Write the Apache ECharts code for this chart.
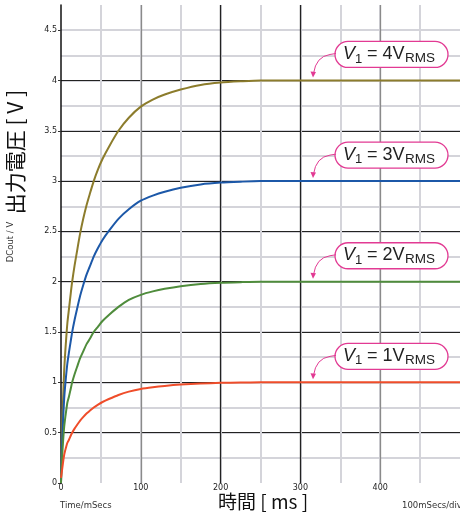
<!DOCTYPE html>
<html>
<head>
<meta charset="utf-8">
<script src="https://cdn.jsdelivr.net/npm/echarts@6/dist/echarts.min.js"></script>
<style>
html, body { margin: 0; padding: 0; background: #fff; }
#main { width: 460px; height: 518px; }
</style>
</head>
<body>
<div id="main"></div>
<script>
// readings (time in ms, output in V)
var timeMs = [0, 0.5, 1, 2, 3, 4, 5, 6, 8, 10, 12, 14, 17, 20, 24, 28, 32, 36, 41, 46, 52, 60, 72, 85, 100, 115, 130, 150, 175, 200, 225, 250, 300, 500];
var out4V  = [0, 0.24, 0.40, 0.68, 0.92, 1.12, 1.26, 1.38, 1.59, 1.73, 1.87, 2.0, 2.16, 2.3, 2.48, 2.63, 2.76, 2.87, 3.0, 3.11, 3.22, 3.34, 3.5, 3.63, 3.74, 3.81, 3.86, 3.91, 3.956, 3.98, 3.992, 4, 4, 4];
var out3V  = [0, 0.18, 0.30, 0.51, 0.69, 0.84, 0.945, 1.035, 1.19, 1.3, 1.4, 1.5, 1.62, 1.725, 1.86, 1.97, 2.07, 2.15, 2.25, 2.33, 2.415, 2.505, 2.625, 2.72, 2.805, 2.856, 2.895, 2.934, 2.967, 2.985, 2.994, 3, 3, 3];
var out2V  = [0, 0.12, 0.20, 0.34, 0.46, 0.56, 0.63, 0.69, 0.8, 0.86, 0.93, 1.0, 1.08, 1.15, 1.24, 1.31, 1.38, 1.43, 1.5, 1.55, 1.61, 1.67, 1.75, 1.82, 1.87, 1.904, 1.93, 1.956, 1.978, 1.99, 1.996, 2, 2, 2];
var out1V  = [0.05, 0.08, 0.11, 0.17, 0.23, 0.28, 0.315, 0.345, 0.4, 0.43, 0.467, 0.5, 0.54, 0.575, 0.62, 0.657, 0.69, 0.717, 0.75, 0.777, 0.805, 0.835, 0.875, 0.908, 0.935, 0.952, 0.965, 0.978, 0.989, 0.995, 0.998, 1, 1, 1];

var seriesNames = ['4', '3', '2', '1'];
var seriesColors = ['#8c7c2c', '#1c58a8', '#4f8c3c', '#ef4d2a'];
var seriesLevels = [4, 3, 2, 1];

var xLabels = [0, 100, 200, 300, 400];
var yLabels = [0, 0.5, 1, 1.5, 2, 2.5, 3, 3.5, 4, 4.5];

var pink = '#e23a93';
var labelT = 342.5;   // where the callout boxes start (ms)

var myChart = echarts.init(document.getElementById('main'));

function makeSeries(values, i) {
	var data = [];
	for (var k = 0; k < timeMs.length; k++) {
		data.push([timeMs[k], values[k]]);
	}
	return {
		name: seriesNames[i],
		type: 'line',
		xAxisIndex: 0,
		yAxisIndex: 0,
		data: data,
		symbol: 'none',
		smooth: 0.25,
		lineStyle: { color: seriesColors[i], width: 2 },
		z: 5
	};
}

var option = {
	animation: false,
	backgroundColor: '#fff',
	grid: { left: 61, right: -1, top: 5, bottom: 35 },
	xAxis: [
		{
			type: 'value', min: 0, max: 500, interval: 50, position: 'bottom',
			axisLine: { show: false }, axisTick: { show: false }, axisLabel: { show: false },
			splitLine: { show: true, showMinLine: false, showMaxLine: false, lineStyle: { color: '#d4d4da', width: 2 } }
		},
		{
			type: 'value', min: 0, max: 500, interval: 100, position: 'bottom',
			axisLine: { show: false }, axisTick: { show: false },
			axisLabel: {
				customValues: xLabels, margin: 1,
				fontFamily: 'DejaVu Sans', fontSize: 8, color: '#222'
			},
			splitLine: { show: true, showMinLine: false, showMaxLine: false,
				lineStyle: { color: ['#8a8a8a', '#222', '#222', '#8a8a8a'], width: 1.3 } }
		}
	],
	yAxis: [
		{
			type: 'value', min: 0, max: 4.75, interval: 0.25,
			axisLine: { show: true, lineStyle: { color: '#111', width: 1.5 } },
			axisTick: { show: false }, axisLabel: { show: false },
			splitLine: { show: true, showMinLine: false, showMaxLine: false, lineStyle: { color: '#d4d4da', width: 2 } }
		},
		{
			type: 'value', min: 0, max: 4.75, interval: 0.5, position: 'left',
			axisLine: { show: false },
			axisTick: { show: true, customValues: yLabels, length: 3, lineStyle: { color: '#333' } },
			axisLabel: {
				customValues: yLabels, margin: 4,
				fontFamily: 'DejaVu Sans', fontSize: 8, color: '#222'
			},
			splitLine: { show: true, showMinLine: false, showMaxLine: false, lineStyle: { color: '#222', width: 1 } }
		}
	],
	series: [
		makeSeries(out4V, 0),
		makeSeries(out3V, 1),
		makeSeries(out2V, 2),
		makeSeries(out1V, 3)
	]
};
myChart.setOption(option);

// texts round the plot and the callouts
var elements = [
	{ type: 'text', x: 15, y: 152, rotation: Math.PI / 2,
		style: { text: '出力電圧 [ V ]', font: '21px "Noto Sans CJK JP"', fill: '#111', align: 'center', verticalAlign: 'middle' } },
	{ type: 'text', x: 11, y: 242, rotation: Math.PI / 2,
		style: { text: 'DCout / V', font: '8.5px "DejaVu Sans"', fill: '#333', align: 'center', verticalAlign: 'middle' } },
	{ type: 'text', x: 263, y: 502,
		style: { text: '時間 [ ms ]', font: '19px "Noto Sans CJK JP"', fill: '#111', align: 'center', verticalAlign: 'middle' } },
	{ type: 'text', x: 60, y: 506,
		style: { text: 'Time/mSecs', font: '8.5px "DejaVu Sans"', fill: '#333', align: 'left', verticalAlign: 'middle' } },
	{ type: 'text', x: 402, y: 506,
		style: { text: '100mSecs/div', font: '8.5px "DejaVu Sans"', fill: '#333', align: 'left', verticalAlign: 'middle' } }
];

seriesLevels.forEach(function (lv, i) {
	var p = myChart.convertToPixel({ xAxisIndex: 0, yAxisIndex: 0 }, [labelT, lv]);
	var bx = Math.round(p[0]) + 1, ly = p[1], cy = ly - 26;
	elements.push({ type: 'rect', z: 10,
		shape: { x: bx, y: cy - 13, width: 113, height: 26, r: 13 },
		style: { fill: '#fff', stroke: pink, lineWidth: 1.3 } });
	elements.push({ type: 'text', z: 11, x: bx + 8, y: cy - 0.5,
		style: { text: 'V', font: 'italic 18px "Liberation Sans"', fill: '#222', verticalAlign: 'middle' } });
	elements.push({ type: 'text', z: 11, x: bx + 20, y: cy + 4.5,
		style: { text: '1', font: '13px "Liberation Sans"', fill: '#222', verticalAlign: 'middle' } });
	elements.push({ type: 'text', z: 11, x: bx + 27, y: cy - 0.5,
		style: { text: ' = ' + seriesNames[i] + 'V', font: '18px "Liberation Sans"', fill: '#222', verticalAlign: 'middle' } });
	elements.push({ type: 'text', z: 11, x: bx + 70, y: cy + 4,
		style: { text: 'RMS', font: '13.5px "Liberation Sans"', fill: '#222', verticalAlign: 'middle' } });
	// curved arrow down to the line
	var tipX = bx - 22, tipY = ly - 3;
	elements.push({ type: 'line', z: 10,
		shape: { x1: bx + 1, y1: cy - 1, x2: bx - 5, y2: cy },
		style: { stroke: pink, lineWidth: 1 } });
	elements.push({ type: 'bezierCurve', z: 10,
		shape: { x1: bx - 5, y1: cy, cpx1: bx - 19, cpy1: cy + 2, x2: tipX + 0.5, y2: tipY - 4 },
		style: { fill: null, stroke: pink, lineWidth: 1 } });
	elements.push({ type: 'polygon', z: 10,
		shape: { points: [[tipX, tipY], [tipX - 2.5, tipY - 6], [tipX + 3, tipY - 5.5]] },
		style: { fill: pink } });
});

myChart.setOption({ graphic: { elements: elements } });
</script>
</body>
</html>
